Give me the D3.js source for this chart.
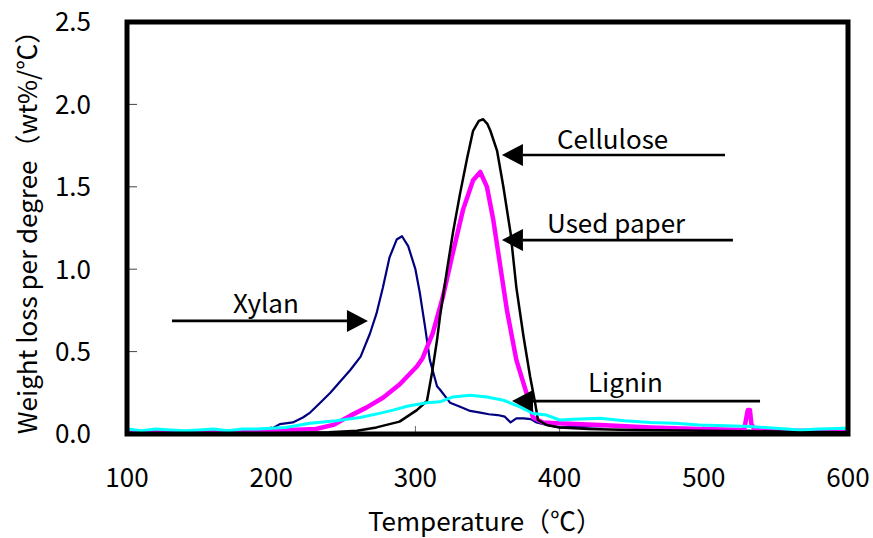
<!DOCTYPE html>
<html>
<head>
<meta charset="utf-8">
<script src="https://cdn.jsdelivr.net/npm/d3@7"></script>
<style>
  html, body { margin: 0; padding: 0; background: #fff; }
  svg text { font-family: "Noto Sans CJK JP", "Liberation Sans", sans-serif; fill: #000; }
</style>
</head>
<body>
<svg id="chart" width="873" height="538"></svg>
<script>
// Derivative thermogravimetric curves (weight loss per degree vs temperature)
const xTicks = [100, 200, 300, 400, 500, 600];
const yTicks = [0.0, 0.5, 1.0, 1.5, 2.0, 2.5];

const xylanT = [100,120,140,160,180,195,200,206,215,222,227,234,241,248,255,262,268.5,273,277.5,282,287,290.7,295,300,303,306.7,310,315,317,324,331,338,345,351,357,362,366,370,375,380,384,391,400,420,440,460,480,500,530,560,600];
const xylanV = [0.015,0.012,0.015,0.012,0.015,0.02,0.03,0.06,0.07,0.10,0.13,0.19,0.25,0.32,0.39,0.47,0.61,0.73,0.89,1.07,1.18,1.20,1.14,1.00,0.86,0.65,0.45,0.29,0.27,0.19,0.165,0.14,0.13,0.12,0.115,0.105,0.07,0.095,0.095,0.09,0.07,0.055,0.04,0.045,0.05,0.04,0.035,0.03,0.02,0.015,0.01];

const celluloseT = [100,200,240,259.5,273,289,301,308,311.5,315,317,322,326,331,336,340,344,347,350,352,356.6,361,366,370,375,379.5,383,385,391,400,420,450,500,550,600];
const celluloseV = [0.005,0.005,0.01,0.02,0.04,0.075,0.145,0.2,0.37,0.57,0.71,1.0,1.22,1.46,1.68,1.84,1.90,1.91,1.88,1.84,1.72,1.50,1.22,0.89,0.59,0.35,0.19,0.085,0.055,0.04,0.03,0.025,0.02,0.015,0.01];

const paperT = [100,150,200,231,243,254.6,266,277.5,289,301,305,312,319,326,333,340,345,349.6,354,359,363.5,370,377,381.5,388.5,398,428,463,497,528,529.5,530.5,532,533,535,560,600];
const paperV = [0.01,0.01,0.02,0.03,0.055,0.11,0.16,0.22,0.30,0.41,0.46,0.61,0.83,1.10,1.36,1.54,1.59,1.50,1.30,1.01,0.75,0.45,0.25,0.10,0.07,0.065,0.055,0.04,0.03,0.025,0.10,0.145,0.145,0.06,0.03,0.02,0.02];

const ligninT = [100,110,120,130,140,150,160,170,180,190,200,210,227,245,261.6,275,284.5,295,308,317,326,338,349.6,361,372.5,381.6,391,400,410,428,445,463,480,497,515,532,550,567,580,598,600];
const ligninV = [0.03,0.02,0.03,0.025,0.02,0.025,0.03,0.02,0.03,0.03,0.035,0.04,0.065,0.08,0.10,0.125,0.145,0.17,0.19,0.195,0.225,0.235,0.225,0.205,0.165,0.125,0.115,0.085,0.09,0.095,0.08,0.07,0.065,0.055,0.05,0.045,0.035,0.025,0.03,0.035,0.03];

const series = [
  { name: "Xylan",      t: xylanT,     v: xylanV,     color: "#000080", width: 2.2 },
  { name: "Used paper", t: paperT,     v: paperV,     color: "#FF00FF", width: 4.5 },
  { name: "Cellulose",  t: celluloseT, v: celluloseV, color: "#000000", width: 2.5 },
  { name: "Lignin",     t: ligninT,    v: ligninV,    color: "#00FFFF", width: 3 }
];

// Callouts: label text and its baseline anchor, arrow shaft from t0 to the tip at t1
const callouts = [
  { text: "Cellulose",  lt: 398.2, lv: 1.729, t0: 514.7, t1: 360, v: 1.693 },
  { text: "Used paper", lt: 391.3, lv: 1.220, t0: 520.2, t1: 360, v: 1.177 },
  { text: "Xylan",      lt: 173.5, lv: 0.734, t0: 131.2, t1: 267.1, v: 0.686 },
  { text: "Lignin",     lt: 419.7, lv: 0.255, t0: 539,   t1: 367, v: 0.200 }
];

const svg = d3.select("#chart");
const frameL = 127, frameR = 848, frameT = 22, frameB = 434;
const fontSize = 26;

const x = d3.scaleLinear().domain([100, 600]).range([frameL, frameR]);
const y = d3.scaleLinear().domain([0, 2.5]).range([frameB, frameT]);

// Tick marks inside the frame
const tickG = svg.append("g");
yTicks.slice(1, -1).forEach(d => {
  tickG.append("line").attr("x1", frameL).attr("x2", frameL + 10)
    .attr("y1", y(d)).attr("y2", y(d)).attr("stroke", "#444").attr("stroke-width", 1);
});
xTicks.slice(1, -1).forEach(d => {
  tickG.append("line").attr("x1", x(d)).attr("x2", x(d))
    .attr("y1", frameB).attr("y2", frameB - 8).attr("stroke", "#666").attr("stroke-width", 1);
});

// Curves
const line = d3.line().x(d => x(d[0])).y(d => y(d[1]));
const plot = svg.append("g");
series.forEach(s => {
  const pts = s.t.map((t, i) => [t, s.v[i]]);
  plot.append("path").datum(pts)
    .attr("d", line)
    .attr("fill", "none")
    .attr("stroke", s.color)
    .attr("stroke-width", s.width)
    .attr("stroke-linejoin", "round");
});

// Frame
svg.append("rect").attr("x", frameL).attr("y", frameT)
  .attr("width", frameR - frameL).attr("height", frameB - frameT)
  .attr("fill", "none").attr("stroke", "#000").attr("stroke-width", 5);

// Tick labels
svg.append("g").selectAll("text").data(yTicks).join("text")
  .attr("x", 91).attr("y", d => y(d)).attr("dy", "0.36em")
  .attr("text-anchor", "end").attr("font-size", fontSize)
  .text(d => d.toFixed(1));

svg.append("g").selectAll("text").data(xTicks).join("text")
  .attr("x", d => x(d)).attr("y", 487)
  .attr("text-anchor", "middle").attr("font-size", fontSize)
  .text(d => d);

// Axis titles
svg.append("text").attr("x", 485).attr("y", 531)
  .attr("text-anchor", "middle").attr("font-size", fontSize)
  .text("Temperature（℃）");

svg.append("text")
  .attr("transform", "translate(37,226) rotate(-90)")
  .attr("text-anchor", "middle").attr("font-size", fontSize)
  .text("Weight loss per degree（wt%/℃）");

// Callout arrows and labels
const ann = svg.append("g");
callouts.forEach(c => {
  const x0 = x(c.t0), x1 = x(c.t1), yy = y(c.v);
  const dir = x1 > x0 ? 1 : -1;
  const headLen = 21, headHalf = 11;
  ann.append("line").attr("x1", x0).attr("x2", x1 - dir * headLen)
    .attr("y1", yy).attr("y2", yy).attr("stroke", "#000").attr("stroke-width", 2.7);
  ann.append("path")
    .attr("d", `M${x1},${yy} L${x1 - dir * headLen},${yy - headHalf} L${x1 - dir * headLen},${yy + headHalf} Z`)
    .attr("fill", "#000");
  ann.append("text").attr("x", x(c.lt)).attr("y", y(c.lv))
    .attr("font-size", fontSize).text(c.text);
});
</script>
</body>
</html>
